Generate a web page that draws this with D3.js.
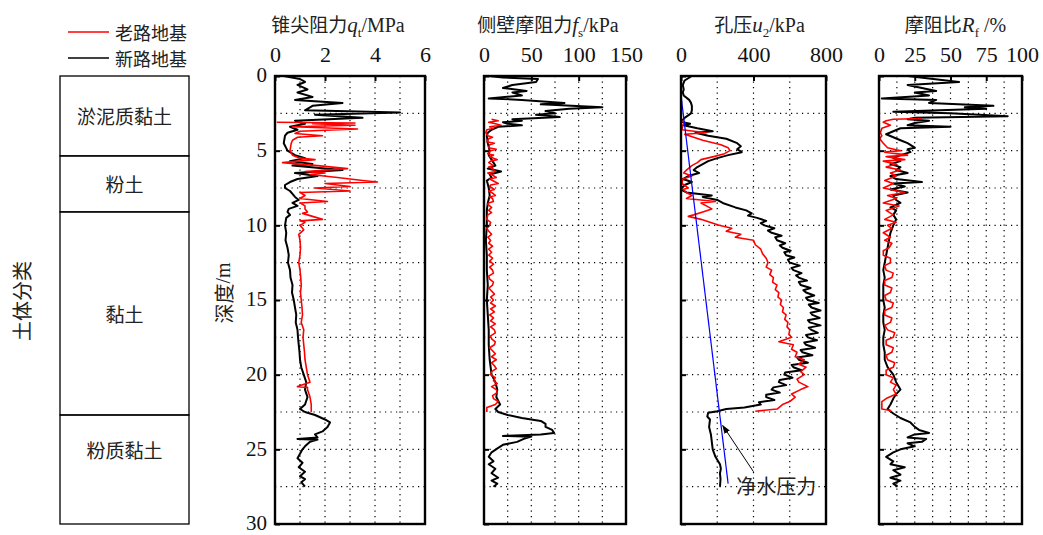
<!DOCTYPE html>
<html><head><meta charset="utf-8">
<script src="https://cdn.jsdelivr.net/npm/d3@7"></script>
<style>body{margin:0;background:#fff}</style>
</head><body><svg id="c" width="1043" height="535"></svg>
<script>
// ---------- data ----------
const depthTicks = [0, 5, 10, 15, 20, 25, 30];
const qtTicks = [0, 2, 4, 6];
const fsTicks = [0, 50, 100, 150];
const u2Ticks = [0, 400, 800];
const rfTicks = [0, 25, 50, 75, 100];
const legendLabels = ["老路地基", "新路地基"];
const soilNames = ["淤泥质黏土", "粉土", "黏土", "粉质黏土"];
const soilTops = [0, 5.35, 9.1, 22.7];
const soilBottoms = [5.35, 9.1, 22.7, 30];
const soilLabelDepths = [2.65, 7.2, 15.9, 25];

// [depth m, value]
const qtNew = [[0,0.35],[0.2,1.0],[0.4,1.2],[0.6,0.9],[0.9,1.3],[1.1,0.9],[1.4,1.5],[1.6,0.8],[1.8,2.7],[2.0,1.5],[2.3,1.2],[2.45,5.0],[2.6,1.6],[2.8,3.5],[3.0,0.8],[3.2,1.2],[3.4,0.6],[3.6,0.9],[3.8,0.5],[4.0,0.4],[4.5,0.35],[5.0,0.5],[5.3,0.8],[5.5,1.2],[5.7,0.6],[5.9,1.5],[6.0,0.7],[6.2,2.0],[6.3,2.7],[6.5,0.8],[6.7,1.7],[6.9,0.9],[7.1,0.6],[7.3,0.4],[7.5,0.4],[7.7,0.6],[7.9,0.7],[8.1,0.8],[8.3,0.95],[8.5,0.7],[8.7,0.9],[8.9,0.55],[9.1,0.5],[9.3,0.6],[9.5,0.45],[10,0.4],[10.5,0.45],[11,0.42],[11.5,0.5],[12,0.55],[12.5,0.52],[13,0.6],[13.5,0.62],[14,0.7],[14.5,0.68],[15,0.75],[15.5,0.8],[16,0.85],[16.5,0.83],[17,0.9],[17.5,0.92],[18,0.95],[18.5,0.98],[19,1.0],[19.5,1.05],[20,1.15],[20.5,1.25],[21,1.2],[21.5,1.3],[22,1.2],[22.3,1.0],[22.5,1.2],[22.7,1.6],[23,2.0],[23.2,2.2],[23.5,2.1],[23.8,1.9],[24.0,1.6],[24.2,1.7],[24.3,0.9],[24.35,1.7],[24.5,1.4],[24.8,1.2],[25,1.1],[25.3,1.0],[25.6,0.9],[25.9,1.1],[26.2,0.95],[26.5,1.2],[26.8,1.0],[27.0,1.2],[27.2,1.05],[27.5,1.2]];
const qtOld = [[3.1,0.07],[3.15,3.2],[3.2,1.5],[3.3,3.2],[3.4,0.7],[3.55,3.3],[3.7,1.0],[3.85,0.8],[4.0,1.9],[4.1,0.9],[4.3,0.7],[4.5,0.65],[5.0,0.6],[5.3,0.7],[5.5,1.0],[5.6,1.6],[5.8,0.3],[6.0,1.7],[6.2,2.9],[6.4,1.2],[6.5,2.0],[6.6,1.4],[6.8,2.5],[7.0,3.5],[7.1,4.1],[7.2,2.0],[7.4,3.0],[7.5,1.6],[7.7,3.0],[7.8,1.0],[8.0,1.2],[8.2,1.0],[8.4,2.1],[8.5,1.0],[8.7,1.2],[8.9,1.2],[9.1,1.3],[9.2,1.1],[9.4,1.5],[9.6,1.9],[9.7,1.0],[9.8,1.2],[10,1.0],[10.3,1.15],[10.6,0.95],[11,1.0],[11.5,1.02],[12,1.0],[12.5,0.95],[13,1.0],[13.5,1.03],[14,1.05],[14.5,1.02],[15,1.05],[15.5,1.08],[16,1.1],[16.5,1.05],[17,1.15],[17.5,1.12],[18,1.15],[18.5,1.18],[19,1.2],[19.5,1.25],[20,1.3],[20.5,1.4],[20.8,0.9],[20.85,1.3],[21,1.3],[21.5,1.4],[22,1.45],[22.5,1.45]];

const fsNew = [[0,5],[0.1,20],[0.2,57],[0.4,55],[0.6,30],[0.8,20],[1.0,45],[1.1,30],[1.3,40],[1.5,5],[1.6,40],[1.8,85],[1.9,60],[2.1,125],[2.2,90],[2.35,65],[2.5,75],[2.6,55],[2.75,80],[2.9,30],[3.0,40],[3.1,20],[3.2,25],[3.3,40],[3.4,15],[3.6,8],[3.8,4],[4.0,3],[4.5,4],[5.0,6],[5.3,5],[5.6,8],[6.0,12],[6.2,4],[6.4,18],[6.6,6],[6.8,8],[7.0,3],[7.5,5],[8.0,6],[8.5,4],[9,3],[10,3],[11,2],[12,3],[13,3],[14,4],[15,3],[16,4],[17,5],[18,5],[19,6],[20,8],[20.5,12],[21,14],[21.5,13],[22,17],[22.3,12],[22.5,15],[22.7,25],[22.9,40],[23.1,60],[23.3,65],[23.5,65],[23.7,72],[23.9,74],[24.0,60],[24.1,20],[24.15,50],[24.3,42],[24.5,35],[24.7,20],[24.9,15],[25.2,8],[25.5,5],[25.8,10],[26.0,5],[26.3,12],[26.6,8],[26.9,15],[27.1,8],[27.3,14],[27.5,10]];
const fsOld = [[2.9,8],[3.0,15],[3.1,5],[3.2,12],[3.3,18],[3.4,6],[3.5,10],[3.6,3],[3.8,2],[4.0,4],[4.1,9],[4.2,5],[4.4,3],[4.5,11],[4.6,6],[4.8,5],[4.9,13],[5.0,7],[5.2,4],[5.3,10],[5.4,6],[5.6,14],[5.7,7],[5.8,5],[6.0,10],[6.1,5],[6.2,9],[6.4,12],[6.5,4],[6.6,8],[6.8,13],[6.9,6],[7.0,9],[7.2,15],[7.3,7],[7.4,6],[7.6,11],[7.7,5],[7.8,8],[8.0,12],[8.1,6],[8.2,9],[8.4,10],[8.5,5],[8.6,4],[8.8,8],[9.0,5],[9.15,8],[9.3,4],[9.6,3],[9.8,7],[10,6],[10.2,3],[10.4,5],[10.6,8],[10.8,4],[11.0,7],[11.2,5],[11.4,9],[11.6,5],[11.8,8],[12,5],[12.2,9],[12.4,6],[12.6,10],[12.8,6],[13.0,9],[13.2,10],[13.4,5],[13.6,6],[13.8,10],[14,9],[14.2,5],[14.4,8],[14.6,11],[14.8,7],[15.0,10],[15.2,7],[15.4,12],[15.6,7],[15.8,11],[16,6],[16.2,10],[16.4,7],[16.6,12],[16.8,7],[17.0,11],[17.2,12],[17.4,7],[17.6,8],[17.8,12],[18,11],[18.2,6],[18.4,9],[18.6,12],[18.8,8],[19.0,13],[19.2,8],[19.4,11],[19.6,13],[19.8,8],[20,7],[20.2,12],[20.4,10],[20.6,14],[20.8,8],[21.0,13],[21.2,14],[21.4,9],[21.6,10],[21.8,15],[22,12],[22.2,3],[22.5,3]];

const u2New = [[0,60],[0.3,20],[0.6,10],[0.9,15],[1.1,10],[1.3,15],[1.6,45],[1.8,55],[2.0,60],[2.3,60],[2.5,55],[2.8,20],[3.0,5],[3.1,10],[3.2,50],[3.3,15],[3.5,90],[3.7,175],[3.8,80],[4.0,150],[4.2,250],[4.5,310],[4.7,330],[4.9,310],[5.1,335],[5.3,260],[5.5,200],[5.7,150],[5.9,120],[6.1,90],[6.3,70],[6.5,100],[6.7,40],[6.9,10],[7.1,60],[7.3,20],[7.5,5],[7.6,0],[7.8,30],[8.0,170],[8.1,120],[8.3,200],[8.5,230],[8.8,300],[9.0,360],[9.2,390],[9.35,370],[9.5,420],[9.7,470],[9.85,440],[10.0,460],[10.2,515],[10.35,480],[10.5,500],[10.7,555],[10.8,520],[11.0,530],[11.2,575],[11.35,545],[11.5,560],[11.7,605],[11.8,570],[12.0,580],[12.15,625],[12.3,590],[12.5,600],[12.7,655],[12.85,610],[13.0,620],[13.2,665],[13.35,635],[13.5,650],[13.7,695],[13.8,650],[14.0,660],[14.2,715],[14.35,675],[14.5,690],[14.7,735],[14.85,690],[15.0,700],[15.2,760],[15.3,705],[15.5,720],[15.7,770],[15.85,715],[16.0,725],[16.2,765],[16.35,700],[16.5,710],[16.7,770],[16.85,705],[17.0,720],[17.2,755],[17.35,690],[17.5,700],[17.7,750],[17.85,680],[18.0,690],[18.2,740],[18.35,660],[18.5,670],[18.7,725],[18.85,640],[19.0,650],[19.2,700],[19.35,610],[19.5,620],[19.7,665],[19.85,575],[20.0,570],[20.2,615],[20.35,545],[20.5,540],[20.7,580],[20.85,510],[21.0,500],[21.2,545],[21.35,470],[21.5,470],[21.7,515],[21.85,430],[22.0,440],[22.2,350],[22.3,250],[22.45,200],[22.55,150],[22.8,145],[23,160],[23.5,155],[24,165],[24.5,170],[25,175],[25.5,190],[26,215],[26.3,220],[26.6,215],[27,218],[27.5,215]];
const u2Old = [[3.0,0],[3.1,20],[3.3,10],[3.6,5],[3.8,140],[3.9,20],[4.1,70],[4.3,120],[4.6,220],[4.8,260],[5.0,270],[5.2,240],[5.4,180],[5.6,110],[5.8,90],[6.0,60],[6.3,30],[6.5,15],[6.7,60],[6.9,10],[7.2,5],[7.5,40],[7.6,10],[7.8,30],[8.0,60],[8.2,30],[8.4,190],[8.5,110],[8.7,140],[8.9,170],[9.1,120],[9.3,70],[9.4,40],[9.6,110],[9.8,160],[10.0,210],[10.2,280],[10.4,250],[10.6,330],[10.8,300],[11.0,400],[11.3,410],[11.6,440],[11.9,450],[12.2,470],[12.5,480],[12.8,470],[13,500],[13.3,490],[13.5,510],[13.8,505],[14,530],[14.3,520],[14.5,540],[14.8,535],[15,555],[15.3,548],[15.5,565],[15.8,560],[16,580],[16.3,572],[16.5,590],[16.8,585],[17,600],[17.3,595],[17.5,610],[17.8,540],[18,620],[18.3,610],[18.5,640],[18.8,630],[19,680],[19.3,650],[19.5,690],[19.8,660],[20,680],[20.3,640],[20.5,650],[20.8,700],[21,660],[21.3,610],[21.5,630],[21.8,600],[22,560],[22.3,530],[22.45,410]];

const hydroDepth = [1.3, 27.3];
const hydroValue = [0, 260];

const rfNew = [[0,20],[0.4,56],[0.6,20],[0.8,30],[1.0,40],[1.1,25],[1.3,35],[1.5,2],[1.6,40],[1.8,35],[2.0,80],[2.1,60],[2.2,75],[2.4,10],[2.5,50],[2.7,90],[2.8,25],[2.9,20],[3.0,35],[3.15,25],[3.3,20],[3.4,50],[3.5,15],[3.7,10],[3.9,5],[4.1,10],[4.3,15],[4.5,20],[4.8,25],[4.9,20],[5.1,22],[5.3,15],[5.5,10],[5.7,15],[5.9,8],[6.1,15],[6.3,12],[6.5,20],[6.7,8],[6.9,12],[7.1,30],[7.2,10],[7.4,18],[7.6,8],[7.8,20],[8.0,10],[8.3,12],[8.5,15],[8.8,8],[9.0,12],[9.3,10],[9.6,12],[10,10],[10.5,8],[11,7],[11.5,6],[12,5],[12.5,4],[13,3],[13.5,4],[14,3],[14.5,3],[15,3],[15.5,4],[16,3],[16.5,3],[17,4],[17.5,3],[18,3],[18.5,4],[19,4],[19.5,6],[20,10],[20.5,12],[21,15],[21.3,12],[21.6,10],[22,8],[22.3,6],[22.6,10],[22.9,15],[23.2,22],[23.5,25],[23.7,28],[23.9,35],[24.0,25],[24.2,20],[24.3,33],[24.5,30],[24.6,20],[24.8,25],[25,15],[25.2,10],[25.5,5],[25.8,10],[26,8],[26.2,18],[26.4,10],[26.7,15],[26.9,8],[27.1,15],[27.3,10],[27.5,13]];
const rfOld = [[2.85,30],[2.9,10],[3.0,5],[3.1,3],[3.3,8],[3.5,2],[3.8,1],[4.0,2],[4.2,0.5],[4.5,3],[4.8,6],[5.0,15],[5.1,4],[5.3,20],[5.4,5],[5.6,18],[5.7,3],[5.9,12],[6.1,5],[6.3,15],[6.5,8],[6.7,12],[7.0,4],[7.2,10],[7.5,3],[7.8,18],[8.0,6],[8.2,12],[8.5,3],[8.7,14],[9,5],[9.3,10],[9.6,4],[9.8,12],[10,6],[10.2,9],[10.5,3],[10.8,8],[11,4],[11.2,9],[11.5,7],[11.7,3],[12,3],[12.2,8],[12.5,8],[12.7,4],[13,5],[13.2,10],[13.5,9],[13.7,4],[14,4],[14.2,9],[14.5,8],[14.7,4],[15,5],[15.2,10],[15.5,9],[15.7,4],[16,4],[16.2,9],[16.5,8],[16.7,4],[17,6],[17.2,11],[17.5,10],[17.7,5],[18,5],[18.2,10],[18.5,9],[18.7,5],[19,6],[19.2,11],[19.5,10],[19.7,5],[20,5],[20.2,10],[20.5,8],[20.7,12],[21,10],[21.3,12],[21.6,5],[21.8,2],[22.3,2],[22.4,8],[22.5,8]];

// ---------- drawing ----------
const svg = d3.select("#c");
const serif = "'Liberation Serif','Times New Roman',serif";
const cjk = "'Noto Sans CJK SC','Noto Sans',sans-serif";
const RED = "#ff0000", BLACK = "#000";
const y = d3.scaleLinear().domain([0, 30]).range([76, 524]);

svg.append("rect").attr("width", 1043).attr("height", 535).attr("fill", "#fff");

// legend
[RED, BLACK].forEach((c, i) => {
  const yy = 32 + i * 26;
  svg.append("line").attr("x1", 68).attr("x2", 109).attr("y1", yy).attr("y2", yy)
    .attr("stroke", c).attr("stroke-width", 1.6);
  svg.append("text").attr("x", 115).attr("y", yy).attr("dominant-baseline", "central")
    .attr("font-family", cjk).attr("font-size", 18).attr("fill", "#222").text(legendLabels[i]);
});

// soil column
const soil = svg.append("g");
soil.selectAll("rect").data(soilNames).join("rect")
  .attr("x", 60).attr("width", 129)
  .attr("y", (d, i) => y(soilTops[i])).attr("height", (d, i) => y(soilBottoms[i]) - y(soilTops[i]))
  .attr("fill", "none").attr("stroke", "#000").attr("stroke-width", 1.3);
soil.selectAll("text").data(soilNames).join("text")
  .attr("x", 124.5).attr("y", (d, i) => y(soilLabelDepths[i]))
  .attr("text-anchor", "middle").attr("dominant-baseline", "central")
  .attr("font-family", cjk).attr("font-size", 19).attr("fill", "#222").text(d => d);
svg.append("text").attr("transform", "translate(21,301) rotate(-90)")
  .attr("text-anchor", "middle").attr("dominant-baseline", "central")
  .attr("font-family", cjk).attr("font-size", 20).attr("fill", "#222").text("土体分类");

// depth label
const dl = svg.append("text").attr("transform", "translate(223,293) rotate(-90)")
  .attr("text-anchor", "middle").attr("dominant-baseline", "central").attr("font-size", 20).attr("fill", "#222");
dl.append("tspan").attr("font-family", cjk).text("深度");
dl.append("tspan").attr("font-family", serif).text("/m");

const panels = [
  {x0: 275, x1: 425, domain: [0, 6], grid: 1, ticks: qtTicks, news: qtNew, olds: qtOld,
   title: [["锥尖阻力", "cjk"], ["q", "it"], ["t", "sub"], ["/MPa", "rm"]], tdx: -12, yLabels: true},
  {x0: 484, x1: 626, domain: [0, 150], grid: 25, ticks: fsTicks, news: fsNew, olds: fsOld,
   title: [["侧壁摩阻力", "cjk"], ["f", "it"], ["s", "sub"], ["/kPa", "rm"]], tdx: -7},
  {x0: 681, x1: 826, domain: [0, 800], grid: 200, ticks: u2Ticks, news: u2New, olds: u2Old,
   title: [["孔压", "cjk"], ["u", "it"], ["2", "sub"], ["/kPa", "rm"]], tdx: 6, hydro: true},
  {x0: 879, x1: 1022, domain: [0, 100], grid: 12.5, ticks: rfTicks, news: rfNew, olds: rfOld,
   title: [["摩阻比", "cjk"], ["R", "it"], ["f", "sub"], [" /%", "rm"]], tdx: 5}
];

panels.forEach((p, pi) => {
  const x = d3.scaleLinear().domain(p.domain).range([p.x0, p.x1]);
  const g = svg.append("g");
  const clipId = "clip" + pi;
  g.append("clipPath").attr("id", clipId).append("rect")
    .attr("x", p.x0).attr("y", y(0)).attr("width", p.x1 - p.x0).attr("height", y(30) - y(0));

  // grid
  const gx = d3.range(p.domain[0] + p.grid, p.domain[1] - 1e-9, p.grid);
  const gy = d3.range(2.5, 30 - 1e-9, 2.5);
  g.selectAll(".gx").data(gx).join("line")
    .attr("x1", d => x(d)).attr("x2", d => x(d)).attr("y1", y(0)).attr("y2", y(30))
    .attr("stroke", "#000").attr("stroke-width", 1.2).attr("stroke-dasharray", "1.2,4.3");
  g.selectAll(".gy").data(gy).join("line")
    .attr("y1", d => y(d)).attr("y2", d => y(d)).attr("x1", p.x0).attr("x2", p.x1)
    .attr("stroke", "#000").attr("stroke-width", 1.2).attr("stroke-dasharray", "1.2,4.3");

  const line = d3.line().x(d => x(d[1])).y(d => y(d[0]));
  const lg = g.append("g").attr("clip-path", `url(#${clipId})`);
  lg.append("path").datum(p.news).attr("d", line).attr("fill", "none")
    .attr("stroke", BLACK).attr("stroke-width", 2).attr("stroke-linejoin", "round");
  lg.append("path").datum(p.olds).attr("d", line).attr("fill", "none")
    .attr("stroke", RED).attr("stroke-width", 1.6).attr("stroke-linejoin", "round");
  if (p.hydro) {
    lg.append("line").attr("x1", x(hydroValue[0])).attr("y1", y(hydroDepth[0]))
      .attr("x2", x(hydroValue[1])).attr("y2", y(hydroDepth[1]))
      .attr("stroke", "#0000ff").attr("stroke-width", 1.2);
  }

  // frame
  g.append("rect").attr("x", p.x0).attr("y", y(0)).attr("width", p.x1 - p.x0).attr("height", y(30) - y(0))
    .attr("fill", "none").attr("stroke", "#000").attr("stroke-width", 2.4);

  // top axis
  const ax = g.append("g").attr("transform", `translate(0,${y(0)})`)
    .call(d3.axisTop(x).tickValues(p.ticks).tickFormat(d3.format("~g"))
      .tickSizeInner(-5).tickSizeOuter(0).tickPadding(14));
  ax.select(".domain").remove();
  ax.selectAll("line").attr("stroke-width", 2);
  ax.selectAll("text").attr("font-family", serif).attr("font-size", 22).attr("fill", "#111");

  // left axis
  const ay = g.append("g").attr("transform", `translate(${p.x0},0)`)
    .call(d3.axisLeft(y).tickValues(depthTicks).tickSizeInner(-5).tickSizeOuter(0).tickPadding(8)
      .tickFormat(p.yLabels ? d3.format("d") : () => ""));
  ay.select(".domain").remove();
  ay.selectAll("line").attr("stroke-width", 2);
  ay.selectAll("text").attr("font-family", serif).attr("font-size", 21).attr("dy", "0.27em").attr("fill", "#111");

  // title
  const t = svg.append("text").attr("x", (p.x0 + p.x1) / 2 + p.tdx).attr("y", 32)
    .attr("text-anchor", "middle").attr("font-size", 19).attr("fill", "#222");
  p.title.forEach(([s, k]) => {
    const ts = t.append("tspan").text(s);
    if (k === "cjk") ts.attr("font-family", cjk);
    else if (k === "it") ts.attr("font-family", serif).attr("font-style", "italic").attr("font-size", 21);
    else if (k === "sub") ts.attr("font-family", serif).attr("font-size", 13).attr("dy", 5);
    else ts.attr("font-family", serif).attr("font-size", 20).attr("dy", -5);
  });

  if (p.hydro) {
    const ax0 = x(230), ay0 = y(23.4), bx = x(400), by = y(26.5);
    svg.append("defs").append("marker").attr("id", "arr").attr("viewBox", "0 0 10 10")
      .attr("refX", 9).attr("refY", 5).attr("markerWidth", 9).attr("markerHeight", 9)
      .attr("orient", "auto").append("path").attr("d", "M0,1.5L10,5L0,8.5Z").attr("fill", "#000");
    svg.append("line").attr("x1", bx).attr("y1", by).attr("x2", ax0).attr("y2", ay0)
      .attr("stroke", "#000").attr("stroke-width", 1).attr("marker-end", "url(#arr)");
    svg.append("text").attr("x", x(305)).attr("y", 494)
      .attr("font-family", cjk).attr("font-size", 20).attr("fill", "#222").text("净水压力");
  }
});
</script></body></html>
